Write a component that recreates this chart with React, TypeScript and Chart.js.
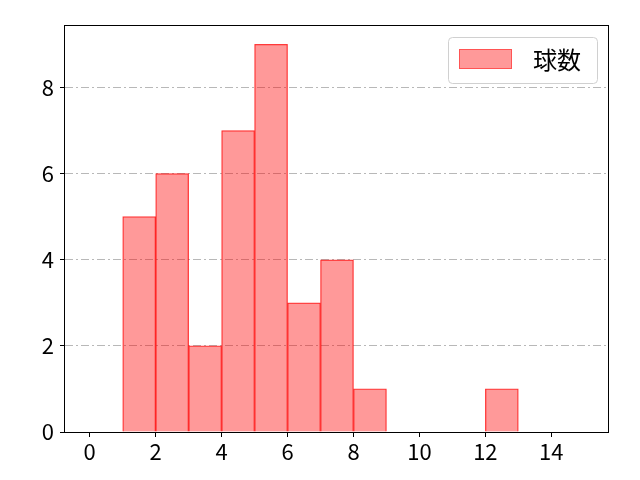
import React, { useEffect, useRef } from 'react';
import { Chart, registerables } from 'chart.js';

Chart.register(...registerables);

// histogram bins (left edges, width 1) and counts
const binStarts = [0, 1, 2, 3, 4, 5, 6, 7, 8, 9, 10, 11, 12, 13, 14];
const counts = [0, 5, 6, 2, 7, 9, 3, 4, 1, 0, 0, 0, 1, 0, 0];
const xTicks = [0, 2, 4, 6, 8, 10, 12, 14];
const yTicks = [0, 2, 4, 6, 8];
const seriesLabel = '球数';

const FONT = '"Noto Sans CJK JP", "Noto Sans", sans-serif';

// matplotlib-style framed legend + axes box
const framePlugin = {
  id: 'frame',
  afterDraw(chart: Chart) {
    const { ctx, chartArea } = chart;
    const ds = chart.data.datasets[0] as any;
    ctx.save();
    ctx.strokeStyle = '#000';
    ctx.lineWidth = 1;
    const l = Math.round(chartArea.left) - 0.5;
    const t = Math.round(chartArea.top) + 0.5;
    const r = Math.round(chartArea.right) - 0.5;
    const b = Math.round(chartArea.bottom) + 0.5;
    ctx.strokeRect(l, t, r - l, b - t);

    // legend box
    const bw = 149;
    const bh = 46;
    const bx = chartArea.right - 12 - bw;
    const by = chartArea.top + 12;
    ctx.beginPath();
    ctx.roundRect(bx + 0.5, by + 0.5, bw, bh, 4);
    ctx.fillStyle = 'rgba(255,255,255,0.8)';
    ctx.fill();
    ctx.strokeStyle = '#d0d0d0';
    ctx.stroke();

    ctx.fillStyle = ds.backgroundColor;
    ctx.fillRect(bx + 11, by + 12, 53, 20);
    ctx.strokeStyle = 'rgba(255, 0, 0, 0.45)';
    ctx.strokeRect(bx + 11.5, by + 12.5, 52, 19);

    ctx.fillStyle = '#000';
    ctx.font = `24px ${FONT}`;
    ctx.textBaseline = 'middle';
    ctx.textAlign = 'left';
    ctx.fillText(ds.label, bx + 85, by + 23);
    ctx.restore();
  },
};

const App: React.FC = () => {
  const chartRef = useRef<HTMLCanvasElement>(null);
  const chartInstance = useRef<Chart | null>(null);

  useEffect(() => {
    if (!chartRef.current) return;
    if (chartInstance.current) chartInstance.current.destroy();

    chartInstance.current = new Chart(chartRef.current, {
      type: 'bar',
      data: {
        datasets: [
          {
            label: seriesLabel,
            data: binStarts.map((b, i) => ({ x: b + 0.5, y: counts[i] > 0 ? counts[i] : null })),
            backgroundColor: 'rgba(255, 0, 0, 0.4)',
            borderColor: 'rgba(255, 0, 0, 0.75)',
            borderWidth: 0.6,
            borderSkipped: 'start',
            barPercentage: 1,
            categoryPercentage: 1,
          },
        ],
      },
      options: {
        responsive: false,
        animation: false,
        layout: { padding: { left: 0, top: 25, right: 31, bottom: 0 } },
        plugins: {
          legend: { display: false },
          tooltip: { enabled: false },
        },
        scales: {
          x: {
            type: 'linear',
            offset: false,
            min: -0.75,
            max: 15.75,
            afterFit: (scale: any) => {
              scale.height = 48;
            },
            afterBuildTicks: (scale: any) => {
              scale.ticks = xTicks.map((v) => ({ value: v }));
            },
            grid: {
              offset: false,
              drawOnChartArea: false,
              drawTicks: true,
              tickLength: 5,
              tickColor: '#000',
            },
            border: { display: false },
            ticks: {
              color: '#000',
              font: { family: FONT, size: 22 },
              padding: 1,
              maxRotation: 0,
              autoSkip: false,
            },
          },
          y: {
            type: 'linear',
            min: 0,
            max: 9.45,
            afterFit: (scale: any) => {
              scale.width = 65;
            },
            afterBuildTicks: (scale: any) => {
              scale.ticks = yTicks.map((v) => ({ value: v }));
            },
            grid: {
              color: (c: any) => (c.tick && c.tick.value === 0 ? 'rgba(0,0,0,0)' : '#b8b8b8'),
              lineWidth: 1,
              tickBorderDash: [],
              tickLength: 5,
              tickColor: '#000',
            },
            border: { display: false, dash: [8, 3, 2, 3] },
            ticks: {
              color: '#000',
              font: { family: FONT, size: 22 },
              padding: 6,
              autoSkip: false,
            },
          },
        },
      },
      plugins: [framePlugin],
    });

    return () => {
      if (chartInstance.current) {
        chartInstance.current.destroy();
        chartInstance.current = null;
      }
    };
  }, []);

  return (
    <div style={{ position: 'absolute', left: 0, top: 0, width: 640, height: 480, background: '#fff' }}>
      <canvas ref={chartRef} width={640} height={480} />
    </div>
  );
};

export default App;
